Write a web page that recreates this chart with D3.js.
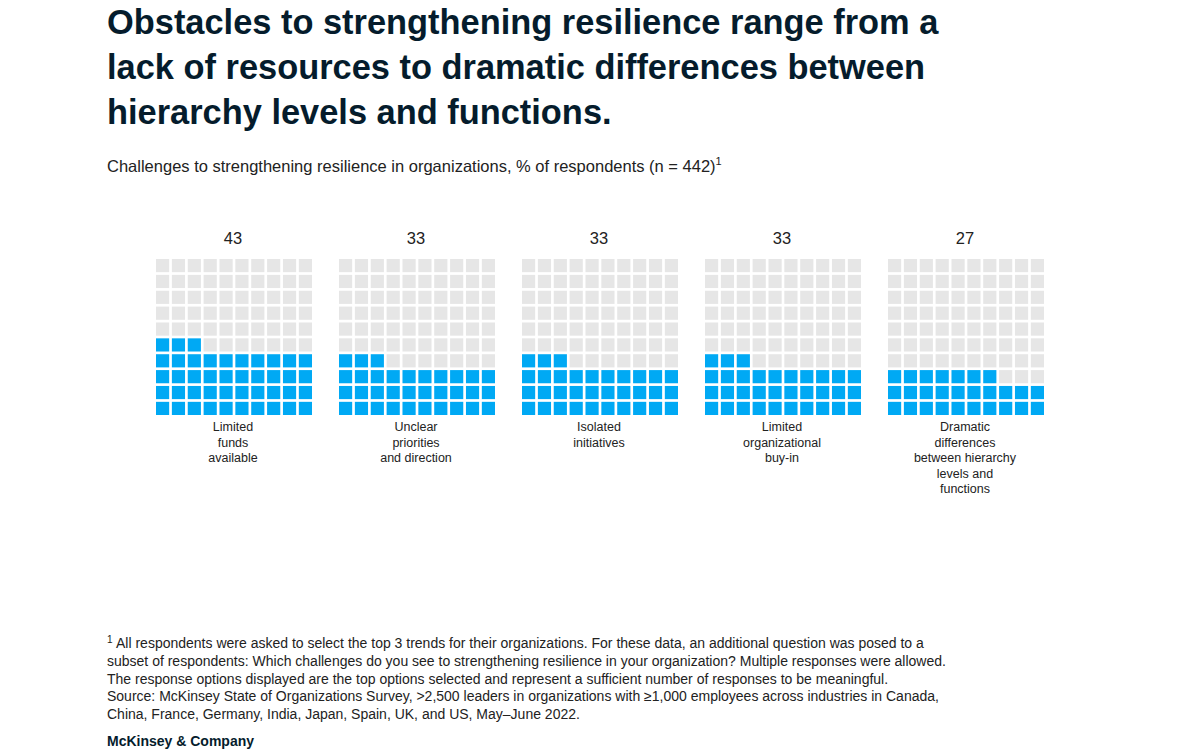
<!DOCTYPE html><html><head><meta charset="utf-8"><script src="https://cdn.jsdelivr.net/npm/d3@7"></script>
<style>body{margin:0;background:#fff;font-family:Arial,"Liberation Sans",sans-serif}</style></head><body><svg id="c" width="1200" height="750"></svg>
<script>
const categories=[["Limited","funds","available"],["Unclear","priorities","and direction"],["Isolated","initiatives"],["Limited","organizational","buy-in"],["Dramatic","differences","between hierarchy","levels and","functions"]];
const values=[43,33,33,33,27];
const svg=d3.select("#c");
const title=["Obstacles to strengthening resilience range from a","lack of resources to dramatic differences between","hierarchy levels and functions."];
svg.append("g").selectAll("text").data(title).join("text").attr("x",107).attr("y",(d,i)=>34+i*45).attr("font-size",34.4).attr("font-weight","bold").attr("fill","#051c2c").text(d=>d);
const st=svg.append("text").attr("x",107).attr("y",172).attr("font-size",16.5).attr("fill","#222").text("Challenges to strengthening resilience in organizations, % of respondents (n = 442)");
st.append("tspan").attr("font-size",11).attr("dy",-7).text("1");
const x=d3.scaleBand().domain(d3.range(values.length)).range([156,156+183*5]).paddingInner(0);
const cell=d3.scaleBand().domain(d3.range(10)).range([0,156]).paddingInner(0.17);
const rowY=d3.scaleBand().domain(d3.range(10)).range([415,259]).paddingInner(0.17);
values.forEach((v,k)=>{
  const g=svg.append("g").attr("transform",`translate(${x(k)},0)`);
  g.selectAll("rect").data(d3.range(100)).join("rect")
   .attr("x",i=>cell(i%10)).attr("y",i=>rowY(Math.floor(i/10)))
   .attr("width",cell.bandwidth()).attr("height",rowY.bandwidth())
   .attr("fill",i=>i<v?"#00a9f4":"#e6e6e6");
  g.append("text").attr("x",77).attr("y",244).attr("text-anchor","middle").attr("font-size",16.5).attr("fill","#222").text(v);
  g.selectAll("text.l").data(categories[k]).join("text").attr("class","l").attr("x",77).attr("y",(d,i)=>431+i*15.5).attr("text-anchor","middle").attr("font-size",12.5).attr("fill","#222").text(d=>d);
});
const foot=["All respondents were asked to select the top 3 trends for their organizations. For these data, an additional question was posed to a","subset of respondents: Which challenges do you see to strengthening resilience in your organization? Multiple responses were allowed.","The response options displayed are the top options selected and represent a sufficient number of responses to be meaningful.","Source: McKinsey State of Organizations Survey, >2,500 leaders in organizations with ≥1,000 employees across industries in Canada,","China, France, Germany, India, Japan, Spain, UK, and US, May–June 2022."];
svg.append("g").selectAll("text").data(foot).join("text").attr("x",(d,i)=>i==0?116:107).attr("y",(d,i)=>648+i*17.8).attr("font-size",14).attr("fill","#222").text(d=>d);
svg.append("text").attr("x",107).attr("y",643).attr("font-size",10).attr("fill","#222").text("1");
svg.append("text").attr("x",107).attr("y",746).attr("font-size",14).attr("font-weight","bold").attr("fill","#051c2c").text("McKinsey & Company");
</script></body></html>
